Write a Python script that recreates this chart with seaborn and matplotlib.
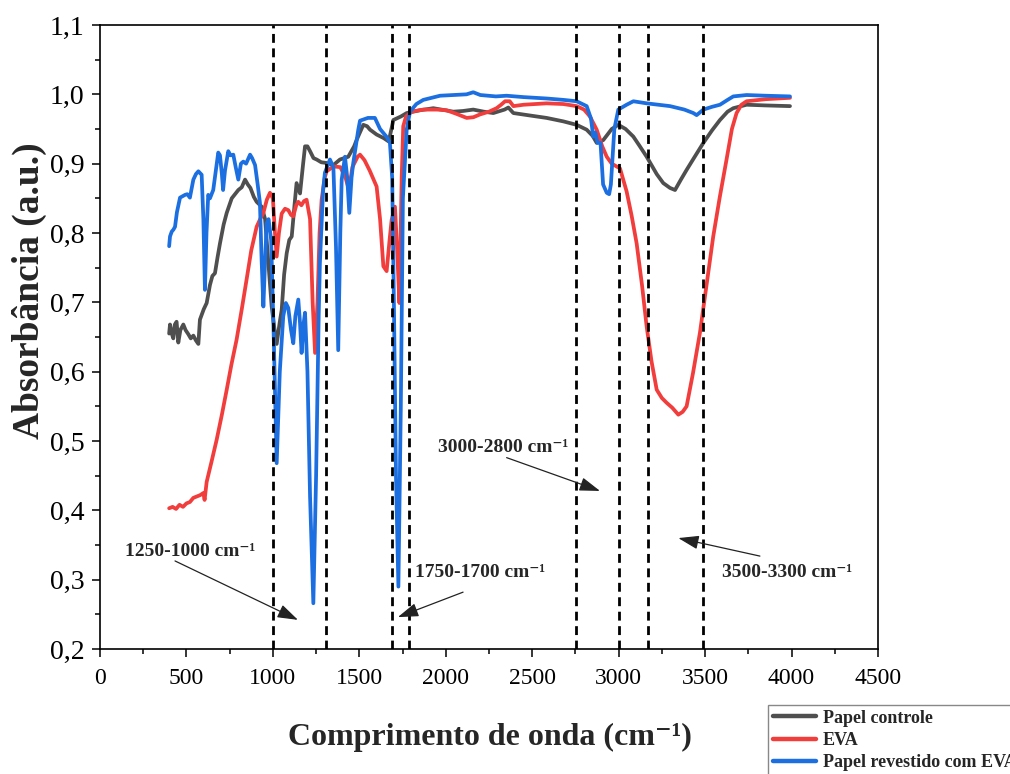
import numpy as np
import pandas as pd
import matplotlib
matplotlib.use("Agg")
import matplotlib.pyplot as plt
import seaborn as sns

# ---------------- data ----------------
ctrl_wn = [400, 405, 415, 424, 433, 443, 453, 465, 482, 495, 511, 525, 540, 555, 569, 578, 600, 617, 636, 650,
           665, 680, 694, 715, 733, 762, 800, 820, 839, 855, 870, 890, 906, 935, 955, 970, 993, 1010, 1022, 1040,
           1051, 1065, 1080, 1095, 1109, 1125, 1137, 1157, 1175, 1186, 1200, 1215, 1235, 1253, 1280, 1311, 1350,
           1388, 1436, 1470, 1484, 1523, 1545, 1562, 1600, 1640, 1670, 1697, 1740, 1774, 1850, 1928, 2044, 2100,
           2159, 2220, 2275, 2340, 2362, 2391, 2500, 2583, 2680, 2757, 2815, 2850, 2873, 2911, 2960, 2998, 3040,
           3085, 3120, 3162, 3220, 3258, 3297, 3326, 3360, 3393, 3440, 3490, 3540, 3586, 3630, 3663, 3740, 3850, 3991]
ctrl_ab = [0.655, 0.668, 0.655, 0.648, 0.668, 0.672, 0.642, 0.660, 0.668, 0.660, 0.654, 0.648, 0.652, 0.645, 0.640,
           0.675, 0.690, 0.699, 0.725, 0.738, 0.742, 0.765, 0.785, 0.812, 0.829, 0.850, 0.862, 0.866, 0.877, 0.870,
           0.865, 0.852, 0.845, 0.838, 0.820, 0.770, 0.694, 0.660, 0.640, 0.672, 0.689, 0.740, 0.771, 0.790, 0.795,
           0.840, 0.872, 0.857, 0.900, 0.925, 0.925, 0.918, 0.908, 0.906, 0.902, 0.901, 0.898, 0.906, 0.910, 0.925,
           0.934, 0.956, 0.954, 0.949, 0.942, 0.937, 0.932, 0.963, 0.968, 0.973, 0.977, 0.980, 0.975, 0.976, 0.978,
           0.975, 0.973, 0.978, 0.981, 0.973, 0.969, 0.966, 0.961, 0.956, 0.949, 0.940, 0.930, 0.934, 0.950, 0.956,
           0.950, 0.939, 0.926, 0.910, 0.885, 0.872, 0.865, 0.862, 0.877, 0.891, 0.910, 0.930, 0.948, 0.963, 0.975,
           0.980, 0.985, 0.984, 0.983]

eva_wn = [400, 420, 440, 460, 480, 500, 520, 540, 560, 580, 598, 605, 617, 645, 675, 705, 733, 760, 790, 820, 848,
          875, 906, 930, 945, 965, 983, 1000, 1012, 1022, 1035, 1051, 1070, 1089, 1105, 1118, 1135, 1147, 1165, 1180,
          1195, 1215, 1230, 1244, 1258, 1270, 1282, 1300, 1311, 1350, 1390, 1420, 1440, 1460, 1490, 1504, 1530,
          1560, 1600, 1620, 1639, 1658, 1675, 1687, 1706, 1718, 1732, 1745, 1754, 1770, 1802, 1870, 1950, 2005,
          2060, 2121, 2160, 2198, 2250, 2294, 2320, 2343, 2370, 2391, 2450, 2583, 2680, 2757, 2800, 2834, 2873,
          2905, 2931, 2960, 2988, 3008, 3046, 3075, 3104, 3135, 3162, 3190, 3220, 3250, 3278, 3310, 3345, 3370,
          3393, 3430, 3470, 3510, 3547, 3585, 3624, 3655, 3682, 3710, 3740, 3850, 3991]
eva_ab = [0.403, 0.405, 0.402, 0.408, 0.405, 0.410, 0.412, 0.418, 0.420, 0.422, 0.425, 0.415, 0.441, 0.470, 0.502,
          0.538, 0.574, 0.610, 0.646, 0.690, 0.733, 0.775, 0.809, 0.822, 0.829, 0.848, 0.858, 0.850, 0.800, 0.766,
          0.800, 0.828, 0.835, 0.833, 0.826, 0.824, 0.840, 0.845, 0.840, 0.846, 0.848, 0.820, 0.700, 0.627, 0.700,
          0.800, 0.848, 0.880, 0.889, 0.896, 0.895, 0.880, 0.862, 0.895, 0.910, 0.913, 0.905, 0.890, 0.867, 0.820,
          0.752, 0.745, 0.790, 0.819, 0.838, 0.780, 0.699, 0.880, 0.954, 0.968, 0.975, 0.978, 0.978, 0.977, 0.972,
          0.966, 0.967, 0.971, 0.975, 0.980, 0.985, 0.990, 0.990, 0.983, 0.985, 0.987, 0.986, 0.983, 0.978, 0.968,
          0.949, 0.925, 0.910, 0.900, 0.896, 0.893, 0.860, 0.825, 0.785, 0.725, 0.665, 0.615, 0.574, 0.562, 0.555,
          0.548, 0.538, 0.542, 0.550, 0.598, 0.656, 0.728, 0.795, 0.852, 0.906, 0.950, 0.973, 0.985, 0.990, 0.993,
          0.995]

coat_wn = [400, 405, 415, 425, 434, 445, 463, 478, 492, 505, 520, 540, 555, 569, 588, 598, 607, 616, 626, 636, 655,
           670, 684, 694, 705, 712, 723, 742, 755, 771, 785, 800, 815, 829, 845, 868, 880, 897, 912, 925, 935, 945,
           955, 964, 975, 990, 1005, 1022, 1040, 1060, 1075, 1089, 1105, 1118, 1130, 1147, 1157, 1166, 1178, 1186,
           1200, 1215, 1234, 1250, 1265, 1272, 1290, 1301, 1330, 1350, 1365, 1378, 1390, 1398, 1417, 1430, 1442,
           1455, 1465, 1494, 1504, 1550, 1590, 1620, 1660, 1677, 1690, 1700, 1712, 1726, 1740, 1752, 1774, 1793,
           1830, 1870, 1967, 2050, 2120, 2159, 2200, 2290, 2352, 2450, 2583, 2680, 2757, 2815, 2840, 2853, 2865,
           2878, 2895, 2910, 2931, 2945, 2955, 2975, 2998, 3046, 3085, 3162, 3230, 3297, 3380, 3432, 3451, 3490,
           3540, 3586, 3630, 3663, 3740, 3850, 3991]
coat_ab = [0.781, 0.795, 0.802, 0.805, 0.809, 0.830, 0.851, 0.853, 0.855, 0.856, 0.851, 0.877, 0.885, 0.889, 0.884,
           0.820, 0.718, 0.800, 0.855, 0.850, 0.862, 0.890, 0.916, 0.912, 0.885, 0.862, 0.890, 0.918, 0.912, 0.913,
           0.895, 0.877, 0.900, 0.903, 0.900, 0.913, 0.908, 0.898, 0.870, 0.844, 0.760, 0.694, 0.760, 0.814, 0.820,
           0.790, 0.650, 0.468, 0.600, 0.680, 0.699, 0.692, 0.660, 0.641, 0.680, 0.704, 0.670, 0.627, 0.670, 0.685,
           0.600, 0.420, 0.266, 0.450, 0.680, 0.757, 0.860, 0.887, 0.906, 0.895, 0.780, 0.631, 0.800, 0.877, 0.910,
           0.880, 0.829, 0.880, 0.901, 0.949, 0.962, 0.966, 0.966, 0.950, 0.938, 0.930, 0.880, 0.700, 0.450, 0.290,
           0.550, 0.850, 0.949, 0.975, 0.986, 0.992, 0.998, 0.999, 1.000, 1.003, 0.999, 0.997, 0.998, 0.996, 0.994,
           0.992, 0.990, 0.983, 0.965, 0.939, 0.945, 0.930, 0.930, 0.870, 0.858, 0.856, 0.870, 0.950, 0.978, 0.985,
           0.990, 0.987, 0.985, 0.983, 0.978, 0.973, 0.970, 0.978, 0.982, 0.985, 0.992, 0.997, 0.999, 0.998, 0.997]

series_names = ["Papel controle", "EVA", "Papel revestido com EVA"]
band_lines = [1000, 1305, 1690, 1787, 2753, 3002, 3170, 3490]
band_labels = ["1250-1000 cm\u207b\u00b9", "1750-1700 cm\u207b\u00b9",
               "3000-2800 cm\u207b\u00b9", "3500-3300 cm\u207b\u00b9"]
x_ticks = [0, 500, 1000, 1500, 2000, 2500, 3000, 3500, 4000, 4500]
x_ticklabels = ["0", "500", "1000", "1500", "2000", "2500", "3000", "3500", "4000", "4500"]
y_ticks = [0.2, 0.3, 0.4, 0.5, 0.6, 0.7, 0.8, 0.9, 1.0, 1.1]
y_ticklabels = ["0,2", "0,3", "0,4", "0,5", "0,6", "0,7", "0,8", "0,9", "1,0", "1,1"]

# ---------------- style ----------------
sns.set_style("ticks")
plt.rcParams["font.family"] = ["Liberation Serif", "DejaVu Serif"]

colors = ["#4f4f4f", "#f23d3d", "#1c6fe0"]

fig = plt.figure(figsize=(10.1, 7.74), dpi=100)
ax = fig.add_axes([0.099, 0.1615, 0.7703, 0.8062])

frames = [
    pd.DataFrame({"wn": ctrl_wn, "ab": ctrl_ab}),
    pd.DataFrame({"wn": eva_wn, "ab": eva_ab}),
    pd.DataFrame({"wn": coat_wn, "ab": coat_ab}),
]
for df, name, c in zip(frames, series_names, colors):
    sns.lineplot(data=df, x="wn", y="ab", ax=ax, color=c, linewidth=2.7, label=name,
                 sort=False, estimator=None, zorder=2)

for xv in band_lines:
    ax.axvline(xv, color="black", linewidth=2.0, linestyle=(0, (3.2, 2.0)), zorder=3)

ax.set_xlim(0, 4500)
ax.set_ylim(0.2, 1.1)
ax.set_xticks(x_ticks)
ax.set_xticklabels(x_ticklabels)
ax.set_yticks(y_ticks)
ax.set_yticklabels(y_ticklabels)
ax.set_xticks(np.arange(250, 4500, 500), minor=True)
ax.set_yticks(np.arange(0.25, 1.1, 0.1), minor=True)
ax.tick_params(axis="both", which="major", direction="out", length=6, width=1.1,
               color="black", labelcolor="black")
ax.tick_params(axis="x", which="major", labelsize=17, pad=8)
ax.tick_params(axis="y", which="major", labelsize=20, pad=5)
ax.tick_params(axis="both", which="minor", direction="out", length=3.5, width=1.1, color="black")
for s in ax.spines.values():
    s.set_visible(True)
    s.set_linewidth(1.2)
    s.set_color("black")

ax.set_xlabel("Comprimento de onda (cm\u207b\u00b9)", fontsize=23, fontweight="bold")
ax.set_ylabel("Absorbância (a.u.)", fontsize=27, fontweight="bold")
ax.xaxis.set_label_coords(0.501, -0.118)
ax.yaxis.set_label_coords(-0.068, 0.575)

# annotations: (text, text_xy, arrow_tail, arrow_head)
ann_text_pos = [(145, 0.341), (1822, 0.310), (1955, 0.491), (3595, 0.311)]
ann_tail = [(434, 0.327), (2100, 0.282), (2352, 0.476), (3817, 0.334)]
ann_head = [(1145, 0.242), (1723, 0.246), (2892, 0.428), (3345, 0.360)]
for lab, tp, tl, hd in zip(band_labels, ann_text_pos, ann_tail, ann_head):
    ax.text(tp[0], tp[1], lab, fontsize=14, fontweight="bold", ha="left", va="center", zorder=4)
    ax.annotate("", xy=hd, xytext=tl,
                arrowprops=dict(arrowstyle="-|>,head_length=0.9,head_width=0.3", color="#222222",
                                lw=0.9, shrinkA=0, shrinkB=0, mutation_scale=14), zorder=4)

handles, labels = ax.get_legend_handles_labels()
ax.get_legend().remove()
leg = fig.legend(handles, labels, loc="upper left", bbox_to_anchor=(768 / 1010, 1 - 705 / 774),
                 frameon=True, fancybox=False, edgecolor="#888888", framealpha=1,
                 prop={"family": ["Liberation Serif", "DejaVu Serif"], "weight": "bold", "size": 13},
                 borderaxespad=0, borderpad=0.25, handlelength=2.4, handletextpad=0.4,
                 labelspacing=0.3)
leg.get_frame().set_linewidth(1.0)
for h in leg.get_lines():
    h.set_linewidth(3.2)

fig.savefig("out.png", dpi=100)
